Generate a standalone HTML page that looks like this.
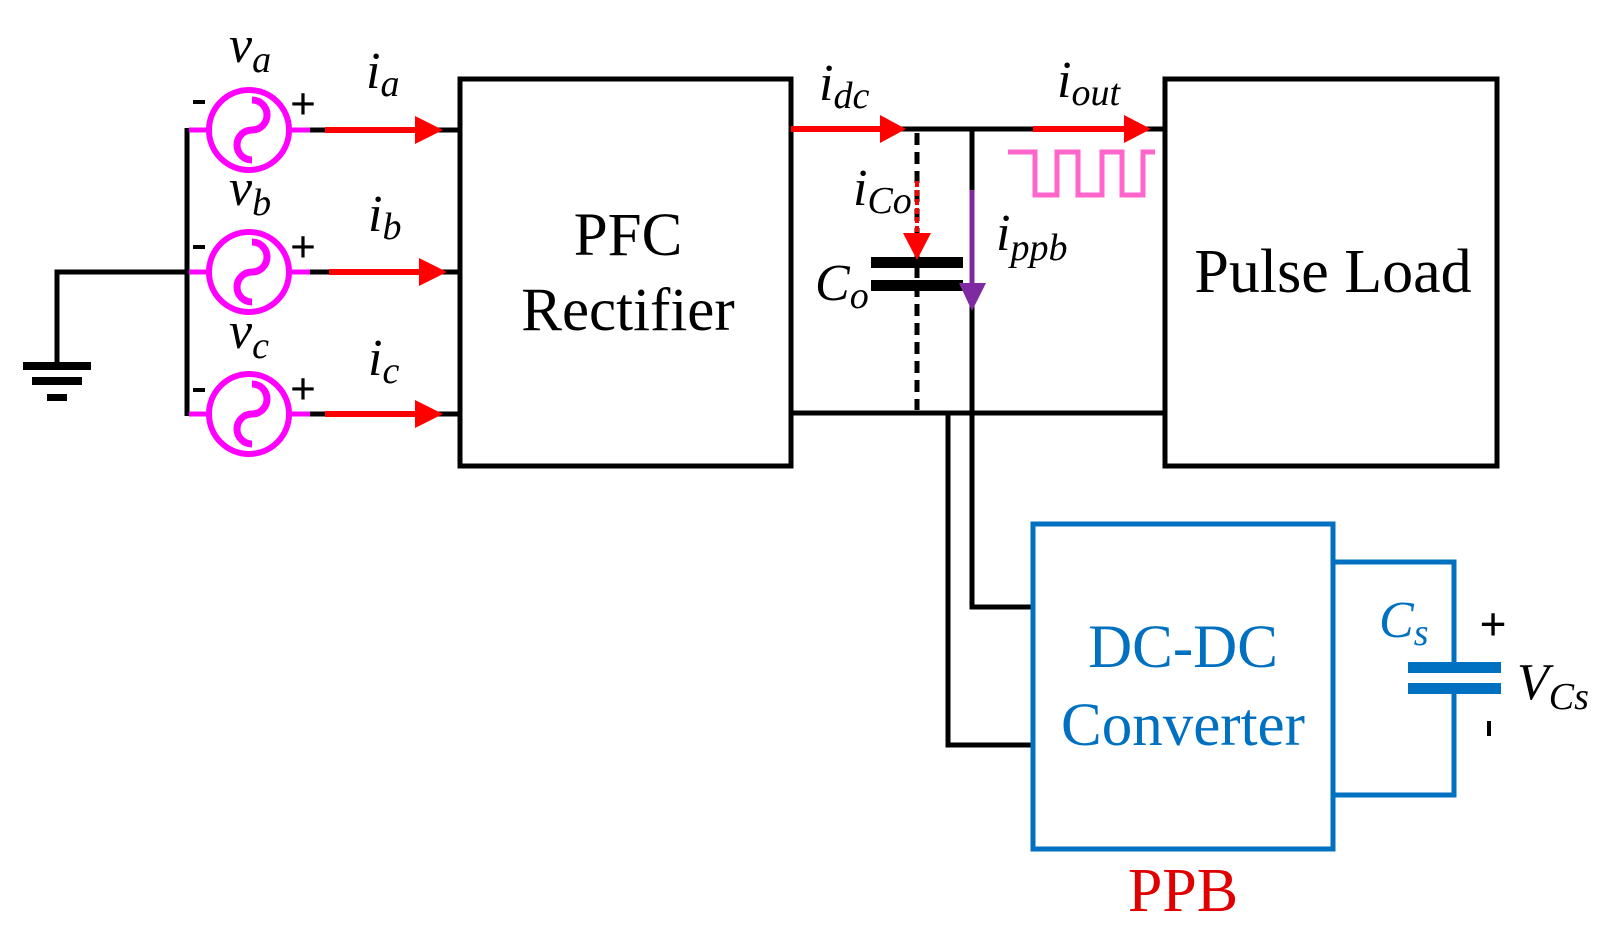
<!DOCTYPE html>
<html><head><style>body{margin:0;background:#fff}svg{display:block}text{font-family:"Liberation Serif",serif}</style></head>
<body>
<svg width="1611" height="939" viewBox="0 0 1611 939" xmlns="http://www.w3.org/2000/svg">
<g stroke="#000" stroke-width="5" fill="none">
<polyline points="57,365 57,272 187,272"/>
<line x1="187" y1="128" x2="187" y2="416"/>
<rect x="460" y="79" width="331" height="387"/>
<rect x="1165" y="79" width="332" height="387"/>
<line x1="310" y1="130" x2="460" y2="130"/>
<line x1="310" y1="272" x2="460" y2="272"/>
<line x1="310" y1="414" x2="460" y2="414"/>
<line x1="791" y1="129" x2="1165" y2="129"/>
<line x1="791" y1="413" x2="1165" y2="413"/>
<line x1="972" y1="129" x2="972" y2="413"/>
<polyline points="972,413 972,607 1033,607"/>
<polyline points="948,413 948,745 1033,745"/>
<line x1="917" y1="133" x2="917" y2="410" stroke-dasharray="12,7"/>
</g>
<rect x="23" y="362" width="68" height="8" fill="#000"/>
<rect x="32" y="377" width="50" height="8" fill="#000"/>
<rect x="47" y="394" width="20" height="7" fill="#000"/>
<rect x="871" y="257" width="92" height="11" fill="#000"/>
<rect x="871" y="280" width="92" height="11" fill="#000"/>
<g stroke="#f0f" fill="none">
<g stroke-width="5"><line x1="189" y1="130" x2="310" y2="130"/><line x1="189" y1="272" x2="310" y2="272"/><line x1="189" y1="414" x2="310" y2="414"/></g>
<g fill="#fff" stroke-width="6"><circle cx="249" cy="130" r="40"/><circle cx="249" cy="272" r="40"/><circle cx="249" cy="414" r="40"/></g>
<g stroke-width="7">
<path d="M252,100 a15,15 0 0 1 0,30 a15,15 0 0 0 0,30"/>
<path d="M252,242 a15,15 0 0 1 0,30 a15,15 0 0 0 0,30"/>
<path d="M252,384 a15,15 0 0 1 0,30 a15,15 0 0 0 0,30"/>
</g></g>
<g stroke="#000" stroke-width="5"><line x1="310" y1="130" x2="325" y2="130"/><line x1="310" y1="272" x2="325" y2="272"/><line x1="310" y1="414" x2="325" y2="414"/></g>
<g fill="#f00">
<rect x="325" y="127" width="95" height="6"/><path d="M415,116 L443,130 L415,144z"/>
<rect x="329" y="269" width="95" height="6"/><path d="M419,258 L447,272 L419,286z"/>
<rect x="325" y="411" width="95" height="6"/><path d="M415,400 L443,414 L415,428z"/>
<rect x="791" y="126" width="95" height="6"/><path d="M880,115 L906,129 L880,143z"/>
<rect x="1033" y="126" width="97" height="6"/><path d="M1124,115 L1151,129 L1124,143z"/>
<path d="M903,233 L931,233 L917,260z"/>
</g>
<line x1="917" y1="181" x2="917" y2="235" stroke="#f00" stroke-width="4" stroke-dasharray="6,3"/>
<line x1="972" y1="190" x2="972" y2="290" stroke="#7f2aa0" stroke-width="5"/>
<path d="M959,283 L986,283 L972,311z" fill="#7f2aa0"/>
<polyline points="1008,152 1035,152 1035,195 1057,195 1057,152 1078,152 1078,195 1102,195 1102,152 1122,152 1122,195 1143,195 1143,152 1155,152" stroke="#ff66cc" stroke-width="5" fill="none"/>
<g transform="translate(-7,-3)">
<g stroke="#0070c0" stroke-width="5" fill="none">
<rect x="1040" y="527" width="300" height="325"/>
<polyline points="1340,565 1461,565 1461,672"/>
<polyline points="1461,690 1461,798 1340,798"/>
</g>
<rect x="1415" y="665" width="93" height="11" fill="#0070c0"/>
<rect x="1415" y="686" width="93" height="11" fill="#0070c0"/>
<g font-size="61" text-anchor="middle" fill="#0070c0">
<text x="1190" y="670">DC-DC</text>
<text x="1190" y="748">Converter</text>
</g>
<text x="1190" y="914" font-size="62" text-anchor="middle" fill="#e00000">PPB</text>
<text x="1524" y="702" font-style="italic" font-size="52">V<tspan font-size="38" dy="10">Cs</tspan></text>
<text x="1386" y="640" font-style="italic" font-size="52" fill="#0070c0">C<tspan font-size="38" dy="8">s</tspan></text>
<text x="1500" y="643" font-family="Liberation Sans" font-size="48" font-weight="bold" text-anchor="middle">+</text>
<rect x="1494" y="724" width="4" height="15" fill="#000"/>
</g>
<g font-size="61" text-anchor="middle" fill="#000">
<text x="628" y="255">PFC</text>
<text x="628" y="330">Rectifier</text>
</g>
<text x="1333" y="292" font-size="62" text-anchor="middle">Pulse Load</text>
<g font-style="italic" fill="#000" font-size="52">
<text x="229" y="62">v<tspan font-size="38" dy="10">a</tspan></text>
<text x="229" y="205">v<tspan font-size="38" dy="10">b</tspan></text>
<text x="229" y="348">v<tspan font-size="38" dy="10">c</tspan></text>
<text x="366" y="88">i<tspan font-size="38" dy="8">a</tspan></text>
<text x="368" y="231">i<tspan font-size="38" dy="8">b</tspan></text>
<text x="368" y="375">i<tspan font-size="38" dy="8">c</tspan></text>
<text x="819" y="100">i<tspan font-size="38" dy="8">dc</tspan></text>
<text x="1057" y="97">i<tspan font-size="38" dy="8">out</tspan></text>
<text x="853" y="205">i<tspan font-size="38" dy="8">Co</tspan></text>
<text x="996" y="250">i<tspan font-size="38" dy="10">ppb</tspan></text>
<text x="815" y="300">C<tspan font-size="38" dy="8">o</tspan></text>
</g>
<g font-family="Liberation Sans" font-size="46" font-weight="bold" fill="#000" text-anchor="middle">
<text x="303" y="119">+</text>
<text x="303" y="262">+</text>
<text x="303" y="404">+</text>
</g>
<g fill="#000">
<rect x="193" y="100" width="12" height="4"/><rect x="193" y="245" width="12" height="4"/><rect x="193" y="388" width="12" height="4"/>
</g>
</svg>
</body></html>
